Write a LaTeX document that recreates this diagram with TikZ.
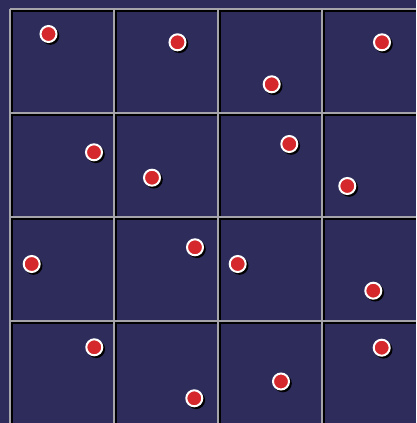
\documentclass[tikz,border=0pt]{standalone}
\definecolor{navy}{HTML}{2D2C5A}
\definecolor{gridgray}{HTML}{A4A4AA}
\definecolor{dotred}{HTML}{D5282C}
\tikzset{
  gridline/.style={draw=gridgray,line width=2pt},
  gridshade/.style={draw=black,line width=1.6pt},
  dot/.style={circle,draw=white,fill=dotred,line width=2pt,minimum size=16pt,inner sep=0pt},
  dotshade/.style={circle,fill=black,minimum size=18pt,inner sep=0pt}
}
\begin{document}
\begin{tikzpicture}[x=1pt,y=-1pt]
\path[use as bounding box,fill=navy] (0,0) rectangle (416,423);
% grid, shade first
\foreach \g in {10,114,218,322} {\draw[gridshade] (\g+1.8,9) -- (\g+1.8,423);}
\foreach \g in {9,113,217,321} {\draw[gridshade] (10,\g+1.8) -- (416,\g+1.8);}
\foreach \g in {10,114,218,322} {\draw[gridline] (\g,9) -- (\g,423);}
\foreach \g in {9,113,217,321} {\draw[gridline] (10,\g) -- (416,\g);}
% points
\foreach \px/\py [count=\i] in {48.5/34,177.5/42.3,382/42.3,271.7/84.3,94/152.3,289.3/144,152/177.7,347.3/186,195/247.3,31.7/264,237.7/264,373.3/290.7,94.3/347.3,381.7/347.7,281/381.5,194.3/398.3} {
  \node[dotshade] (s\i) at (\px+1.8,\py+1.8) {};
  \node[dot] (p\i) at (\px,\py) {};
}
\end{tikzpicture}
\end{document}
